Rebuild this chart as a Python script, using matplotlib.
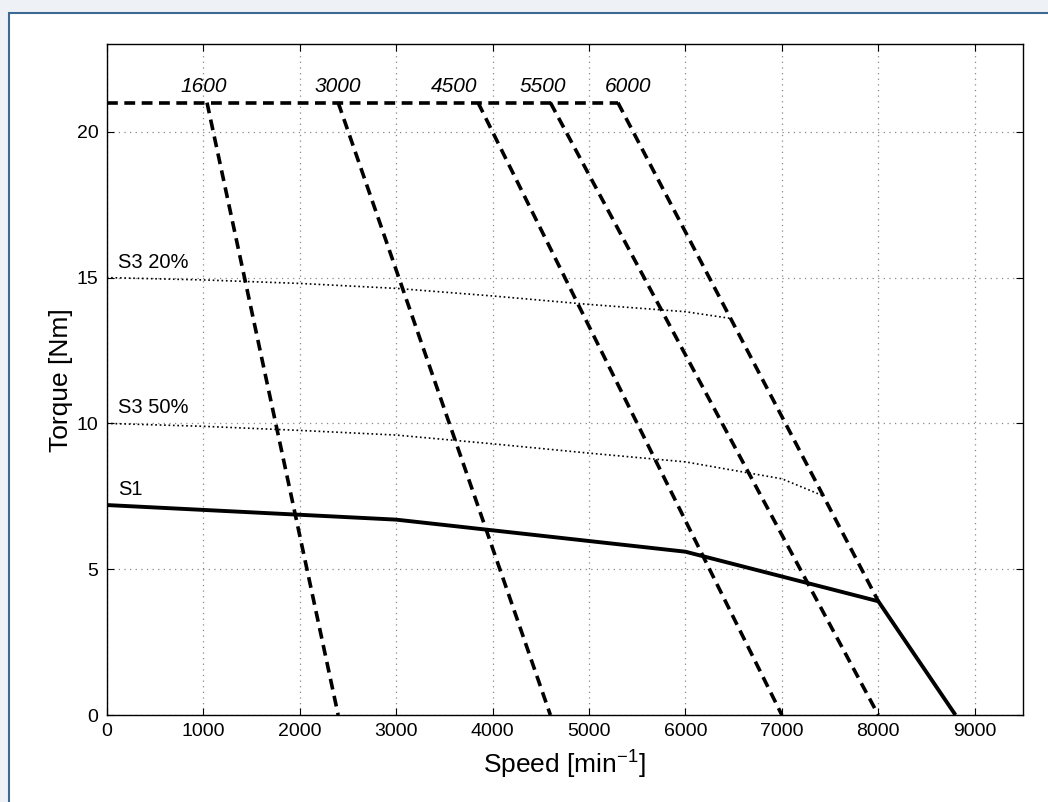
import matplotlib
matplotlib.use("Agg")
import matplotlib.pyplot as plt
from matplotlib.patches import Rectangle

plt.rcParams['font.family'] = ['Liberation Sans', 'DejaVu Sans']
plt.rcParams['mathtext.fontset'] = 'custom'
plt.rcParams['mathtext.rm'] = 'Liberation Sans'

# S1 continuous duty curve
s1_speed = [0, 3000, 6000, 8000, 8800]
s1_torque = [7.2, 6.7, 5.6, 3.9, 0]

# S3 intermittent curves
s3_20_speed = [0, 1000, 2000, 3000, 4000, 5000, 6000, 6470]
s3_20_torque = [15.0, 14.92, 14.8, 14.63, 14.37, 14.08, 13.83, 13.6]
s3_50_speed = [0, 1000, 2000, 3000, 4000, 5000, 6000, 7000, 7440]
s3_50_torque = [10.0, 9.9, 9.76, 9.6, 9.3, 8.98, 8.68, 8.1, 7.5]

# voltage limit lines (labelled by nominal speed)
limit_labels = ["1600", "3000", "4500", "5500", "6000"]
limit_top_speed = [1040, 2400, 3850, 4600, 5300]
limit_end_speed = [2400, 4600, 7000, 8000, 8000]
limit_end_torque = [0, 0, 0, 0, 3.9]
label_speed = [1005, 2395, 3600, 4520, 5410]
peak_torque = 21

curve_labels = ["S3 20%", "S3 50%", "S1"]
curve_label_y = [15.33, 10.36, 7.55]

fig = plt.figure(figsize=(10.48, 8.02), dpi=100)
fig.patch.set_facecolor('#eef2f6')
fig.patches.append(Rectangle((8.5 / 1048, -0.1), 1.2, 1.1 - 12.7 / 802,
                             transform=fig.transFigure, facecolor='white',
                             edgecolor='#3d6a92', linewidth=1.5, zorder=-5))

ax = fig.add_axes([106.7 / 1048, 1 - 715 / 802, (1023 - 106.7) / 1048, (715 - 44.3) / 802])

# peak torque line
ax.plot([0, limit_top_speed[-1]], [peak_torque, peak_torque], color='black',
        lw=2.6, linestyle=(0, (3, 1.8)))
for lab, x0, x1, y1, xl in zip(limit_labels, limit_top_speed, limit_end_speed,
                               limit_end_torque, label_speed):
    ax.plot([x0, x1], [peak_torque, y1], color='black', lw=2.6, linestyle=(0, (3, 1.8)))
    ax.text(xl, 21.36, lab, style='italic', fontsize=15, ha='center', va='baseline')

ax.plot(s3_20_speed, s3_20_torque, color='black', lw=1.2, linestyle=':')
ax.plot(s3_50_speed, s3_50_torque, color='black', lw=1.2, linestyle=':')
ax.plot(s1_speed, s1_torque, color='black', lw=2.8, solid_capstyle='butt')

for lab, y in zip(curve_labels, curve_label_y):
    ax.text(115, y, lab, fontsize=14.5, va='baseline')

ax.set_xlim(0, 9500)
ax.set_ylim(0, 23)
ax.set_xticks(range(0, 9001, 1000))
ax.set_yticks([0, 5, 10, 15, 20])
ax.grid(True, color='#888888', linestyle=(0, (1, 3.5)), linewidth=0.9)
ax.tick_params(direction='in', length=5, width=0.8, top=True, right=True,
               labelsize=14, pad=6)
for s in ax.spines.values():
    s.set_linewidth(1.0)

ax.set_xlabel("Speed [min$^{-1}$]", fontsize=19, labelpad=5)
ax.set_ylabel("Torque [Nm]", fontsize=19, labelpad=2.5)

fig.savefig("out.png", dpi=100, facecolor=fig.get_facecolor())
